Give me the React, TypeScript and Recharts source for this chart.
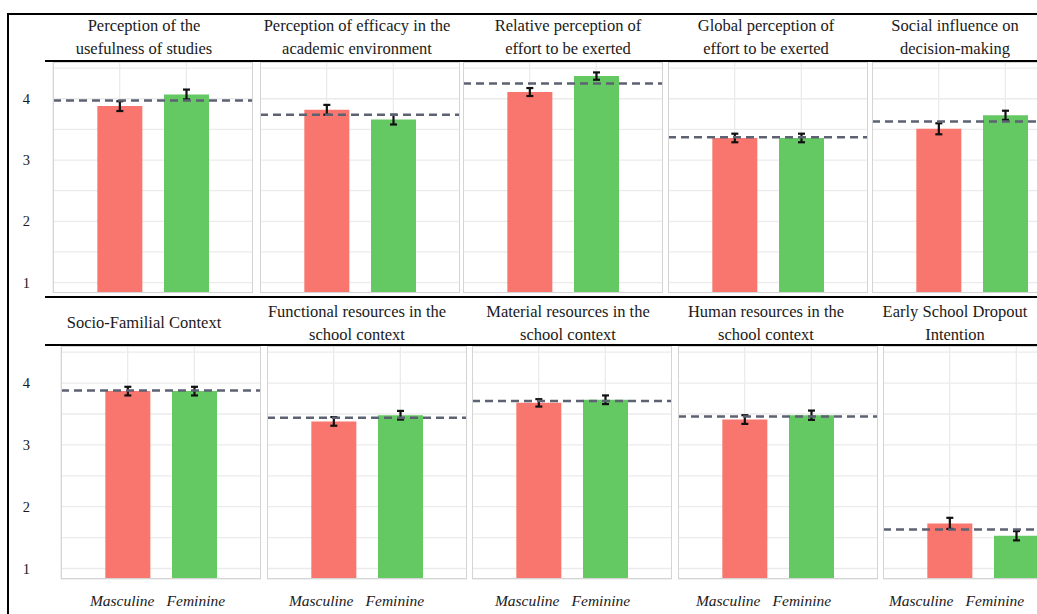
import { ComposedChart, Bar, Cell, ErrorBar, XAxis, YAxis, CartesianGrid, ReferenceLine } from 'recharts';

const panelTitles = [
  'Perception of the\nusefulness of studies',
  'Perception of efficacy in the\nacademic environment',
  'Relative perception of\neffort to be exerted',
  'Global perception of\neffort to be exerted',
  'Social influence on\ndecision-making',
  'Socio-Familial Context',
  'Functional resources in the\nschool context',
  'Material resources in the\nschool context',
  'Human resources in the\nschool context',
  'Early School Dropout\nIntention',
];
const sexes = ['Masculine', 'Feminine'];
const masculineMeans = [3.88, 3.82, 4.11, 3.36, 3.51, 3.87, 3.38, 3.68, 3.41, 1.73];
const feminineMeans = [4.07, 3.66, 4.37, 3.36, 3.73, 3.87, 3.48, 3.73, 3.48, 1.53];
const overallMeans = [3.97, 3.74, 4.25, 3.37, 3.63, 3.88, 3.44, 3.71, 3.46, 1.63];
const masculineErr = [0.08, 0.08, 0.065, 0.07, 0.09, 0.07, 0.07, 0.06, 0.07, 0.09];
const feminineErr = [0.08, 0.08, 0.06, 0.07, 0.075, 0.07, 0.07, 0.07, 0.075, 0.075];
const yTicks = [1, 1.5, 2, 2.5, 3, 3.5, 4, 4.5];

const COLORS = ['#F8766D', '#64C863'];
const FONT = '"Liberation Serif", "Times New Roman", "DejaVu Serif", serif';
const PANEL_W = 200;
const PANEL_LEFT = [
  [53, 260, 463, 668, 872],
  [61, 267, 472, 678, 883],
];
const ROW_TOP = [62, 346];
const ROW_H = [231, 233];
const TITLE_CX = [144, 357, 568, 766, 955];
// the category labels under row 2 sit a bit off the bars in the original
const LABEL_SHIFT = [-2, -9, -8, -13, -25];
const Y_DOMAIN = [0.83, 4.6];

function makeSexTick(col: number) {
  return function SexTick(p: any) {
    const v = p.payload.value as number;
    return (
      <text
        x={p.x + LABEL_SHIFT[col] + (v === 1 ? -3.5 : 3.5)}
        y={p.y}
        dy="0.71em"
        textAnchor="middle"
        fontFamily={FONT}
        fontSize={15.5}
        fontStyle="italic"
        fill="#1a1a1a"
      >
        {sexes[v - 1]}
      </text>
    );
  };
}

function Panel({ idx }: { idx: number }) {
  const row = Math.floor(idx / 5);
  const col = idx % 5;
  const showY = col === 0;
  const showX = row === 1;
  const left = PANEL_LEFT[row][col];
  const axisW = showY ? left - 8 : 0;
  const axisH = showX ? 35 : 0;
  const data = sexes.map((s, i) => ({
    pos: i + 1,
    sex: s,
    mean: i === 0 ? masculineMeans[idx] : feminineMeans[idx],
    err: i === 0 ? masculineErr[idx] : feminineErr[idx],
  }));
  const Tick = makeSexTick(col);

  return (
    <div style={{ position: 'absolute', left: left - axisW, top: ROW_TOP[row] }}>
      <ComposedChart
        width={PANEL_W + axisW}
        height={ROW_H[row] + axisH}
        data={data}
        margin={{ top: 0, right: 0, bottom: 0, left: 0 }}
      >
        <CartesianGrid stroke="#ebebeb" strokeWidth={1.3} />
        <XAxis
          dataKey="pos"
          type="number"
          domain={[0, 3]}
          ticks={[1, 2]}
          hide={!showX}
          height={axisH}
          axisLine={false}
          tickLine={false}
          tickSize={0}
          tickMargin={16}
          tick={<Tick />}
        />
        <YAxis
          type="number"
          domain={Y_DOMAIN}
          ticks={yTicks}
          allowDataOverflow
          hide={!showY}
          width={axisW}
          axisLine={false}
          tickLine={false}
          tickSize={0}
          tickMargin={left - 30}
          tickFormatter={(v: number) => (Number.isInteger(v) ? String(v) : '')}
          tick={{ fontFamily: FONT, fontSize: 14.5, fill: '#1a1a1a' }}
        />
        <Bar dataKey="mean" barSize={45} isAnimationActive={false}>
          {data.map((d, i) => (
            <Cell key={d.sex} fill={COLORS[i]} />
          ))}
          <ErrorBar dataKey="err" width={3.5} stroke="#111" strokeWidth={2.2} isAnimationActive={false} />
        </Bar>
        <ReferenceLine y={overallMeans[idx]} stroke="#5c6272" strokeWidth={2.5} strokeDasharray="8 5" />
      </ComposedChart>
      <div
        style={{
          position: 'absolute',
          left: axisW,
          top: 0,
          width: PANEL_W,
          height: ROW_H[row],
          border: '1.5px solid #d4d4d4',
          boxSizing: 'border-box',
          pointerEvents: 'none',
        }}
      />
    </div>
  );
}

function Title({ idx }: { idx: number }) {
  const row = Math.floor(idx / 5);
  const col = idx % 5;
  const lines = panelTitles[idx].split('\n');
  const top = row === 0 ? 14 : lines.length === 2 ? 300 : 311;
  return (
    <div
      style={{
        position: 'absolute',
        left: TITLE_CX[col] - 120,
        width: 240,
        top,
        textAlign: 'center',
        fontFamily: FONT,
        fontSize: 16.5,
        lineHeight: '23px',
        color: '#1a1a1a',
        whiteSpace: 'pre-line',
      }}
    >
      {panelTitles[idx]}
    </div>
  );
}

const line = (left: number, top: number, width: number, height: number) => (
  <div style={{ position: 'absolute', left, top, width, height, background: '#000' }} />
);

export default function App() {
  return (
    <div style={{ position: 'absolute', left: 0, top: 0, width: 1037, height: 614, overflow: 'hidden', background: '#fff' }}>
      {panelTitles.map((_, i) => (
        <Panel key={i} idx={i} />
      ))}
      {panelTitles.map((_, i) => (
        <Title key={i} idx={i} />
      ))}
      {line(7, 13, 1030, 2)}
      {line(7, 13, 2, 601)}
      {line(45, 60, 992, 1.5)}
      {line(45, 296, 992, 2)}
      {line(45, 344, 992, 1.5)}
    </div>
  );
}
